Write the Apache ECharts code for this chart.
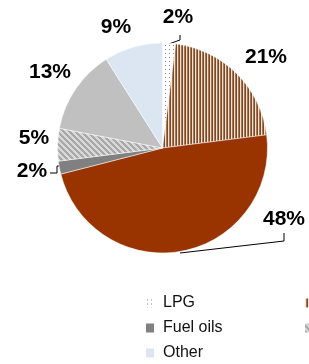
<!DOCTYPE html>
<html>
<head>
<meta charset="utf-8">
<script src="https://cdn.jsdelivr.net/npm/echarts@6/dist/echarts.min.js"></script>
<style>
  html, body { margin: 0; padding: 0; background: #fff; }
  #chart { width: 309px; height: 364px; }
</style>
</head>
<body>
<div id="chart"></div>
<script>
// fuel shares, clockwise from 12 o'clock
var fuels = ['LPG', 'Natural gas', 'Electricity', 'Fuel oils', 'Coal', 'Biomass', 'Other'];
var shares = [2, 21, 48, 2, 5, 13, 9];

// legend columns (Excel lays them out row by row, 3 per row)
var legendCol1 = ['LPG', 'Fuel oils', 'Other'];
var legendCol2 = ['Natural gas', 'Coal'];
var legendCol3 = ['Electricity', 'Biomass'];

// label placement, tuned by eye
var labelPos = [[178, 17], [266, 57], [284, 219], [32, 171], [34, 138], [50, 72], [116, 27]];
var leaderLines = {
    0: [[166, 45], [180, 40], [180, 35]],
    2: [[180, 253], [284, 241], [284, 233]],
    3: [[59, 166], [57, 166], [57, 173], [50, 173]]
};

function pattern(w, h, draw) {
    var c = document.createElement('canvas');
    c.width = w;
    c.height = h;
    draw(c.getContext('2d'));
    return { image: c, repeat: 'repeat' };
}

var dots = pattern(4, 4, function (g) {
    g.fillStyle = '#fff';
    g.fillRect(0, 0, 4, 4);
    g.fillStyle = '#8a8a8a';
    g.fillRect(1, 1, 1, 1);
});
var stripes = pattern(3, 1, function (g) {
    g.fillStyle = '#f2e2d2'; g.fillRect(0, 0, 1, 1);
    g.fillStyle = '#a87650'; g.fillRect(1, 0, 1, 1);
    g.fillStyle = '#7c4a2a'; g.fillRect(2, 0, 1, 1);
});
var hatch = pattern(6, 6, function (g) {
    for (var y = 0; y < 6; y++) {
        for (var x = 0; x < 6; x++) {
            var k = ((x - y) % 6 + 6) % 6;
            g.fillStyle = k < 3 ? '#d9d9d9' : '#a8a8a8';
            g.fillRect(x, y, 1, 1);
        }
    }
});

var fills = [dots, stripes, '#993300', '#808080', hatch, '#c0c0c0', '#dce6f2'];

var font = '"Liberation Sans", Arial, sans-serif';

function legendAt(left, names) {
    return {
        data: names,
        orient: 'vertical',
        left: left,
        top: 295,
        padding: 0,
        itemGap: 9,
        itemWidth: 8,
        itemHeight: 9,
        icon: 'rect',
        selectedMode: false,
        itemStyle: { borderWidth: 0 },
        textStyle: { fontFamily: font, fontSize: 16, color: '#111', padding: [0, 0, 0, 4] }
    };
}

var chart = echarts.init(document.getElementById('chart'));
chart.setOption({
    animation: false,
    legend: [legendAt(146, legendCol1), legendAt(305, legendCol2), legendAt(470, legendCol3)],
    series: [{
        type: 'pie',
        center: [162.5, 148],
        radius: 105,
        startAngle: 90,
        clockwise: true,
        silent: true,
        avoidLabelOverlap: false,
        itemStyle: { borderColor: '#fff', borderWidth: 0.5 },
        label: {
            show: true,
            formatter: '{c}%',
            fontFamily: font,
            fontSize: 21,
            fontWeight: 'bold',
            color: '#000',
            overflow: 'none',
            width: 60
        },
        labelLine: { show: true, lineStyle: { color: '#000', width: 1 } },
        labelLayout: function (params) {
            var p = labelPos[params.dataIndex];
            var out = { x: p[0], y: p[1], align: 'center', verticalAlign: 'middle', hideOverlap: false };
            if (leaderLines[params.dataIndex]) out.labelLinePoints = leaderLines[params.dataIndex];
            return out;
        },
        data: fuels.map(function (name, i) {
            return {
                name: name,
                value: shares[i],
                itemStyle: { color: fills[i] },
                labelLine: { show: !!leaderLines[i] }
            };
        })
    }]
});
</script>
</body>
</html>
